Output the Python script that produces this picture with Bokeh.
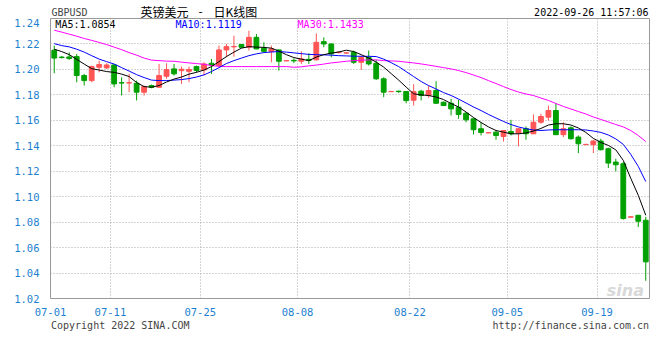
from bokeh.plotting import figure
from bokeh.layouts import column
from bokeh.models import Range1d, FixedTicker, NumeralTickFormatter, ColumnDataSource
from bokeh.core.properties import value
from bokeh.embed import file_html
from bokeh.resources import INLINE

# ---- data (GBPUSD daily candles, 07-01 .. 09-26) ----
opens = [1.2151, 1.2097, 1.2098, 1.2101, 1.1952, 1.1912, 1.2017, 1.2012, 1.2035, 1.1896,
         1.1893, 1.1891, 1.1821, 1.1873, 1.1860, 1.1946, 1.2004, 1.1990, 1.1985, 1.2022,
         1.1996, 1.2048, 1.2030, 1.2153, 1.2177, 1.2195, 1.2174, 1.2252, 1.2166, 1.2140,
         1.2153, 1.2067, 1.2071, 1.2064, 1.2079, 1.2075, 1.2218, 1.2200, 1.2132, 1.2128,
         1.2134, 1.2056, 1.2095, 1.2048, 1.1926, 1.1825, 1.1829, 1.1826, 1.1758, 1.1829,
         1.1795, 1.1834, 1.1742, 1.1734, 1.1703, 1.1656, 1.1612, 1.1534, 1.1501, 1.1507,
         1.1473, 1.1512, 1.1500, 1.1534, 1.1494, 1.1585, 1.1625, 1.1677, 1.1487, 1.1541,
         1.1468, 1.1409, 1.1408, 1.1437, 1.1377, 1.1272, 1.1259, 1.0839, 1.0854, 1.0815]
highs = [1.2187, 1.2105, 1.2134, 1.2122, 1.1965, 1.2030, 1.2069, 1.2048, 1.2043, 1.1938,
         1.1965, 1.1912, 1.1873, 1.1881, 1.2043, 1.2048, 1.2043, 1.2022, 1.2022, 1.2030,
         1.2056, 1.2082, 1.2187, 1.2200, 1.2265, 1.2200, 1.2304, 1.2278, 1.2213, 1.2187,
         1.2155, 1.2070, 1.2087, 1.2142, 1.2126, 1.2283, 1.2252, 1.2203, 1.2142, 1.2134,
         1.2148, 1.2108, 1.2148, 1.2075, 1.1938, 1.1829, 1.1834, 1.1828, 1.1884, 1.1840,
         1.1873, 1.1907, 1.1749, 1.1769, 1.1761, 1.1664, 1.1614, 1.1585, 1.1505, 1.1520,
         1.1522, 1.1604, 1.1536, 1.1552, 1.1646, 1.1651, 1.1716, 1.1734, 1.1585, 1.1552,
         1.1481, 1.1414, 1.1447, 1.1455, 1.1385, 1.1298, 1.1272, 1.0844, 1.0856, 1.0841]
lows = [1.1970, 1.2085, 1.2075, 1.1899, 1.1873, 1.1899, 1.1977, 1.2004, 1.1860, 1.1795,
        1.1821, 1.1756, 1.1795, 1.1852, 1.1855, 1.1926, 1.1952, 1.1886, 1.1899, 1.1977,
        1.1952, 1.1965, 1.2025, 1.2095, 1.2100, 1.2169, 1.2148, 1.2158, 1.2134, 1.2056,
        1.1991, 1.2066, 1.2051, 1.2043, 1.2043, 1.2072, 1.2174, 1.2095, 1.2124, 1.2124,
        1.2043, 1.1996, 1.2030, 1.1918, 1.1782, 1.1823, 1.1816, 1.1734, 1.1716, 1.1756,
        1.1777, 1.1730, 1.1713, 1.1638, 1.1612, 1.1585, 1.1489, 1.1481, 1.1499, 1.1447,
        1.1434, 1.1481, 1.1395, 1.1447, 1.1492, 1.1573, 1.1599, 1.1485, 1.1468, 1.1450,
        1.1342, 1.1405, 1.1342, 1.1363, 1.1225, 1.1199, 1.0820, 1.0837, 1.0762, 1.0339]
closes = [1.2089, 1.2093, 1.2085, 1.1952, 1.1912, 1.2022, 1.2038, 1.2035, 1.1886, 1.1893,
          1.1896, 1.1821, 1.1865, 1.1860, 1.1952, 1.1999, 1.1965, 1.2001, 1.1999, 1.1991,
          1.2043, 1.2035, 1.2153, 1.2179, 1.2180, 1.2174, 1.2252, 1.2161, 1.2142, 1.2161,
          1.2064, 1.2069, 1.2067, 1.2082, 1.2071, 1.2213, 1.2200, 1.2122, 1.2136, 1.2130,
          1.2056, 1.2095, 1.2043, 1.1926, 1.1821, 1.1827, 1.1825, 1.1755, 1.1825, 1.1795,
          1.1834, 1.1734, 1.1716, 1.1690, 1.1646, 1.1604, 1.1526, 1.1505, 1.1503, 1.1481,
          1.1520, 1.1494, 1.1534, 1.1494, 1.1585, 1.1630, 1.1677, 1.1487, 1.1534, 1.1455,
          1.1416, 1.1411, 1.1437, 1.1369, 1.1264, 1.1251, 1.0828, 1.0842, 1.0807, 1.0488]
ma5 = [1.2159, 1.2140, 1.2116, 1.2079, 1.2042, 1.2006, 1.1995, 1.1983, 1.1977, 1.1963,
       1.1944, 1.1897, 1.1865, 1.1860, 1.1873, 1.1901, 1.1924, 1.1940, 1.1963, 1.1977,
       1.1995, 1.2022, 1.2061, 1.2101, 1.2136, 1.2167, 1.2179, 1.2175, 1.2173, 1.2167,
       1.2144, 1.2116, 1.2093, 1.2081, 1.2069, 1.2097, 1.2116, 1.2128, 1.2137, 1.2151,
       1.2140, 1.2116, 1.2089, 1.2057, 1.2018, 1.1967, 1.1916, 1.1861, 1.1808, 1.1800,
       1.1795, 1.1783, 1.1763, 1.1732, 1.1705, 1.1665, 1.1622, 1.1583, 1.1548, 1.1520,
       1.1507, 1.1494, 1.1494, 1.1501, 1.1516, 1.1536, 1.1563, 1.1573, 1.1573, 1.1563,
       1.1540, 1.1505, 1.1458, 1.1426, 1.1403, 1.1368, 1.1285, 1.1144, 1.1011, 1.0854]
ma10 = [1.2202, 1.2187, 1.2177, 1.2159, 1.2136, 1.2108, 1.2081, 1.2061, 1.2042, 1.2014,
        1.1987, 1.1959, 1.1936, 1.1916, 1.1912, 1.1912, 1.1916, 1.1920, 1.1928, 1.1940,
        1.1957, 1.1983, 1.2014, 1.2046, 1.2069, 1.2089, 1.2108, 1.2122, 1.2132, 1.2137,
        1.2140, 1.2136, 1.2130, 1.2124, 1.2118, 1.2116, 1.2114, 1.2112, 1.2108, 1.2106,
        1.2104, 1.2103, 1.2103, 1.2101, 1.2081, 1.2053, 1.2022, 1.1983, 1.1944, 1.1905,
        1.1873, 1.1846, 1.1818, 1.1795, 1.1767, 1.1736, 1.1705, 1.1677, 1.1646, 1.1618,
        1.1591, 1.1567, 1.1548, 1.1534, 1.1524, 1.1520, 1.1524, 1.1526, 1.1526, 1.1526,
        1.1526, 1.1524, 1.1516, 1.1505, 1.1485, 1.1454, 1.1411, 1.1332, 1.1238, 1.1119]
ma30 = [1.2308, 1.2293, 1.2277, 1.2261, 1.2243, 1.2228, 1.2212, 1.2195, 1.2175, 1.2155,
        1.2132, 1.2112, 1.2089, 1.2073, 1.2069, 1.2065, 1.2064, 1.2057, 1.2051, 1.2046,
        1.2040, 1.2030, 1.2024, 1.2022, 1.2022, 1.2022, 1.2022, 1.2022, 1.2022, 1.2022,
        1.2022, 1.2022, 1.2017, 1.2020, 1.2028, 1.2034, 1.2042, 1.2051, 1.2057, 1.2064,
        1.2069, 1.2072, 1.2075, 1.2075, 1.2069, 1.2067, 1.2064, 1.2057, 1.2051, 1.2043,
        1.2034, 1.2024, 1.2014, 1.2004, 1.1991, 1.1975, 1.1956, 1.1936, 1.1912, 1.1889,
        1.1865, 1.1842, 1.1822, 1.1807, 1.1795, 1.1775, 1.1756, 1.1732, 1.1709, 1.1689,
        1.1669, 1.1650, 1.1626, 1.1607, 1.1587, 1.1567, 1.1548, 1.1520, 1.1481, 1.1433]
tick_index = [0, 8, 20, 33, 48, 61, 73]
tick_labels = ["07-01", "07-11", "07-25", "08-08", "08-22", "09-05", "09-19"]
y_ticks = [1.02, 1.04, 1.06, 1.08, 1.10, 1.12, 1.14, 1.16, 1.18, 1.20, 1.22, 1.24]
symbol = "GBPUSD"
title_parts = ["英镑美元", "-", "日K线图"]
timestamp = "2022-09-26 11:57:06"
copyright_text = "Copyright 2022 SINA.COM"
site_text = "http://finance.sina.com.cn"

UP = "#ff5555"
DOWN = "#00a000"
MONO = "DejaVu Sans Mono"
CJK = "Noto Sans CJK SC"
W = 658
BL, BR = 50, 9          # frame borders shared by all strips
FL, FR = BL, W - BR     # frame span in page pixels

n = len(closes)
xs = list(range(n))
colors = [UP if c >= o else DOWN for o, c in zip(opens, closes)]
src = ColumnDataSource(dict(
    x=xs, open=opens, high=highs, low=lows, close=closes,
    top=[max(o, c) for o, c in zip(opens, closes)],
    bottom=[min(o, c) for o, c in zip(opens, closes)],
    color=colors))


def strip(h):
    f = figure(width=W, height=h, output_backend="svg", toolbar_location=None,
               x_range=Range1d(FL, FR), y_range=Range1d(0, h),
               min_border_left=BL, min_border_right=BR, min_border_top=0, min_border_bottom=0,
               x_axis_location=None, y_axis_location=None,
               background_fill_color="white", border_fill_color="white")
    f.outline_line_color = None
    f.grid.visible = False
    return f


def txt(f, x, y, s, color, size="10px", font=MONO, align="left", style="normal"):
    f.text(x=[x], y=[y], text=[s], text_color=color, text_font=value(font),
           text_font_size=size, text_align=align, text_baseline="middle",
           text_font_style=style)


# ---- header strip (page y 0..18) ----
hdr = strip(18)
txt(hdr, 51, 6.5, symbol, "#444444")
txt(hdr, 140, 7.5, title_parts[0], "#000000", size="12px", font=CJK)
txt(hdr, 200, 7.5, title_parts[1], "#000000", size="12px", font=CJK, align="center")
txt(hdr, 213, 7.5, title_parts[2], "#000000", size="12px", font=CJK)
txt(hdr, 648, 6.5, timestamp, "#000000", align="right")

# ---- main chart ----
p = figure(width=W, height=300, output_backend="svg", toolbar_location=None,
           x_range=Range1d(-0.5, n - 0.5), y_range=Range1d(1.02, 1.24),
           min_border_left=BL, min_border_right=BR, min_border_top=0, min_border_bottom=20,
           background_fill_color="white", border_fill_color="white")
p.outline_line_color = "#999999"
p.outline_line_width = 1

xt = [t - 0.5 for t in tick_index]
p.xaxis.ticker = FixedTicker(ticks=xt)
p.xgrid.ticker = FixedTicker(ticks=xt)
p.xaxis.major_label_overrides = {t: lab for t, lab in zip(xt, tick_labels)}
p.yaxis.ticker = FixedTicker(ticks=y_ticks)
p.ygrid.ticker = FixedTicker(ticks=y_ticks)
p.yaxis.formatter = NumeralTickFormatter(format="0.00")
p.grid.grid_line_color = "#aaaaaa"
p.grid.grid_line_dash = "1 2"
p.grid.grid_line_width = 1

for ax in (p.xaxis, p.yaxis):
    ax.axis_line_color = None
    ax.major_tick_line_color = None
    ax.minor_tick_line_color = None
    ax.major_label_text_color = "#1e7fd0"
    ax.major_label_text_font = MONO
    ax.major_label_text_font_size = "10.5px"
p.yaxis.major_label_standoff = 5
p.xaxis.major_label_standoff = 3

p.segment(x0="x", y0="low", x1="x", y1="high", source=src, line_color="color", line_width=1)
p.vbar(x="x", width=0.64, top="top", bottom="bottom", source=src,
       fill_color="color", line_color="color", line_width=1)

p.line(xs, ma30, line_color="#ff00ff", line_width=1)
p.line(xs, ma10, line_color="#0000ff", line_width=1)
p.line(xs, ma5, line_color="#000000", line_width=1)

txt(p, 0.15, 1.2352, "MA5:%.4f" % ma5[-1], "#000000")
txt(p, 16.2, 1.2352, "MA10:%.4f" % ma10[-1], "#0000ff")
txt(p, 32.5, 1.2352, "MA30:%.4f" % ma30[-1], "#ff00ff")
txt(p, 73.8, 1.0262, "sina", "#d8d8d8", size="16px", font="DejaVu Sans", style="bold italic")

# ---- footer strip (page y 318..348) ----
ftr = strip(30)
txt(ftr, 50.5, 23, copyright_text, "#444444")
txt(ftr, 648.5, 23, site_text, "#444444", align="right")

layout = column(hdr, p, ftr, spacing=0)
open("out.html", "w").write(file_html(layout, INLINE))
